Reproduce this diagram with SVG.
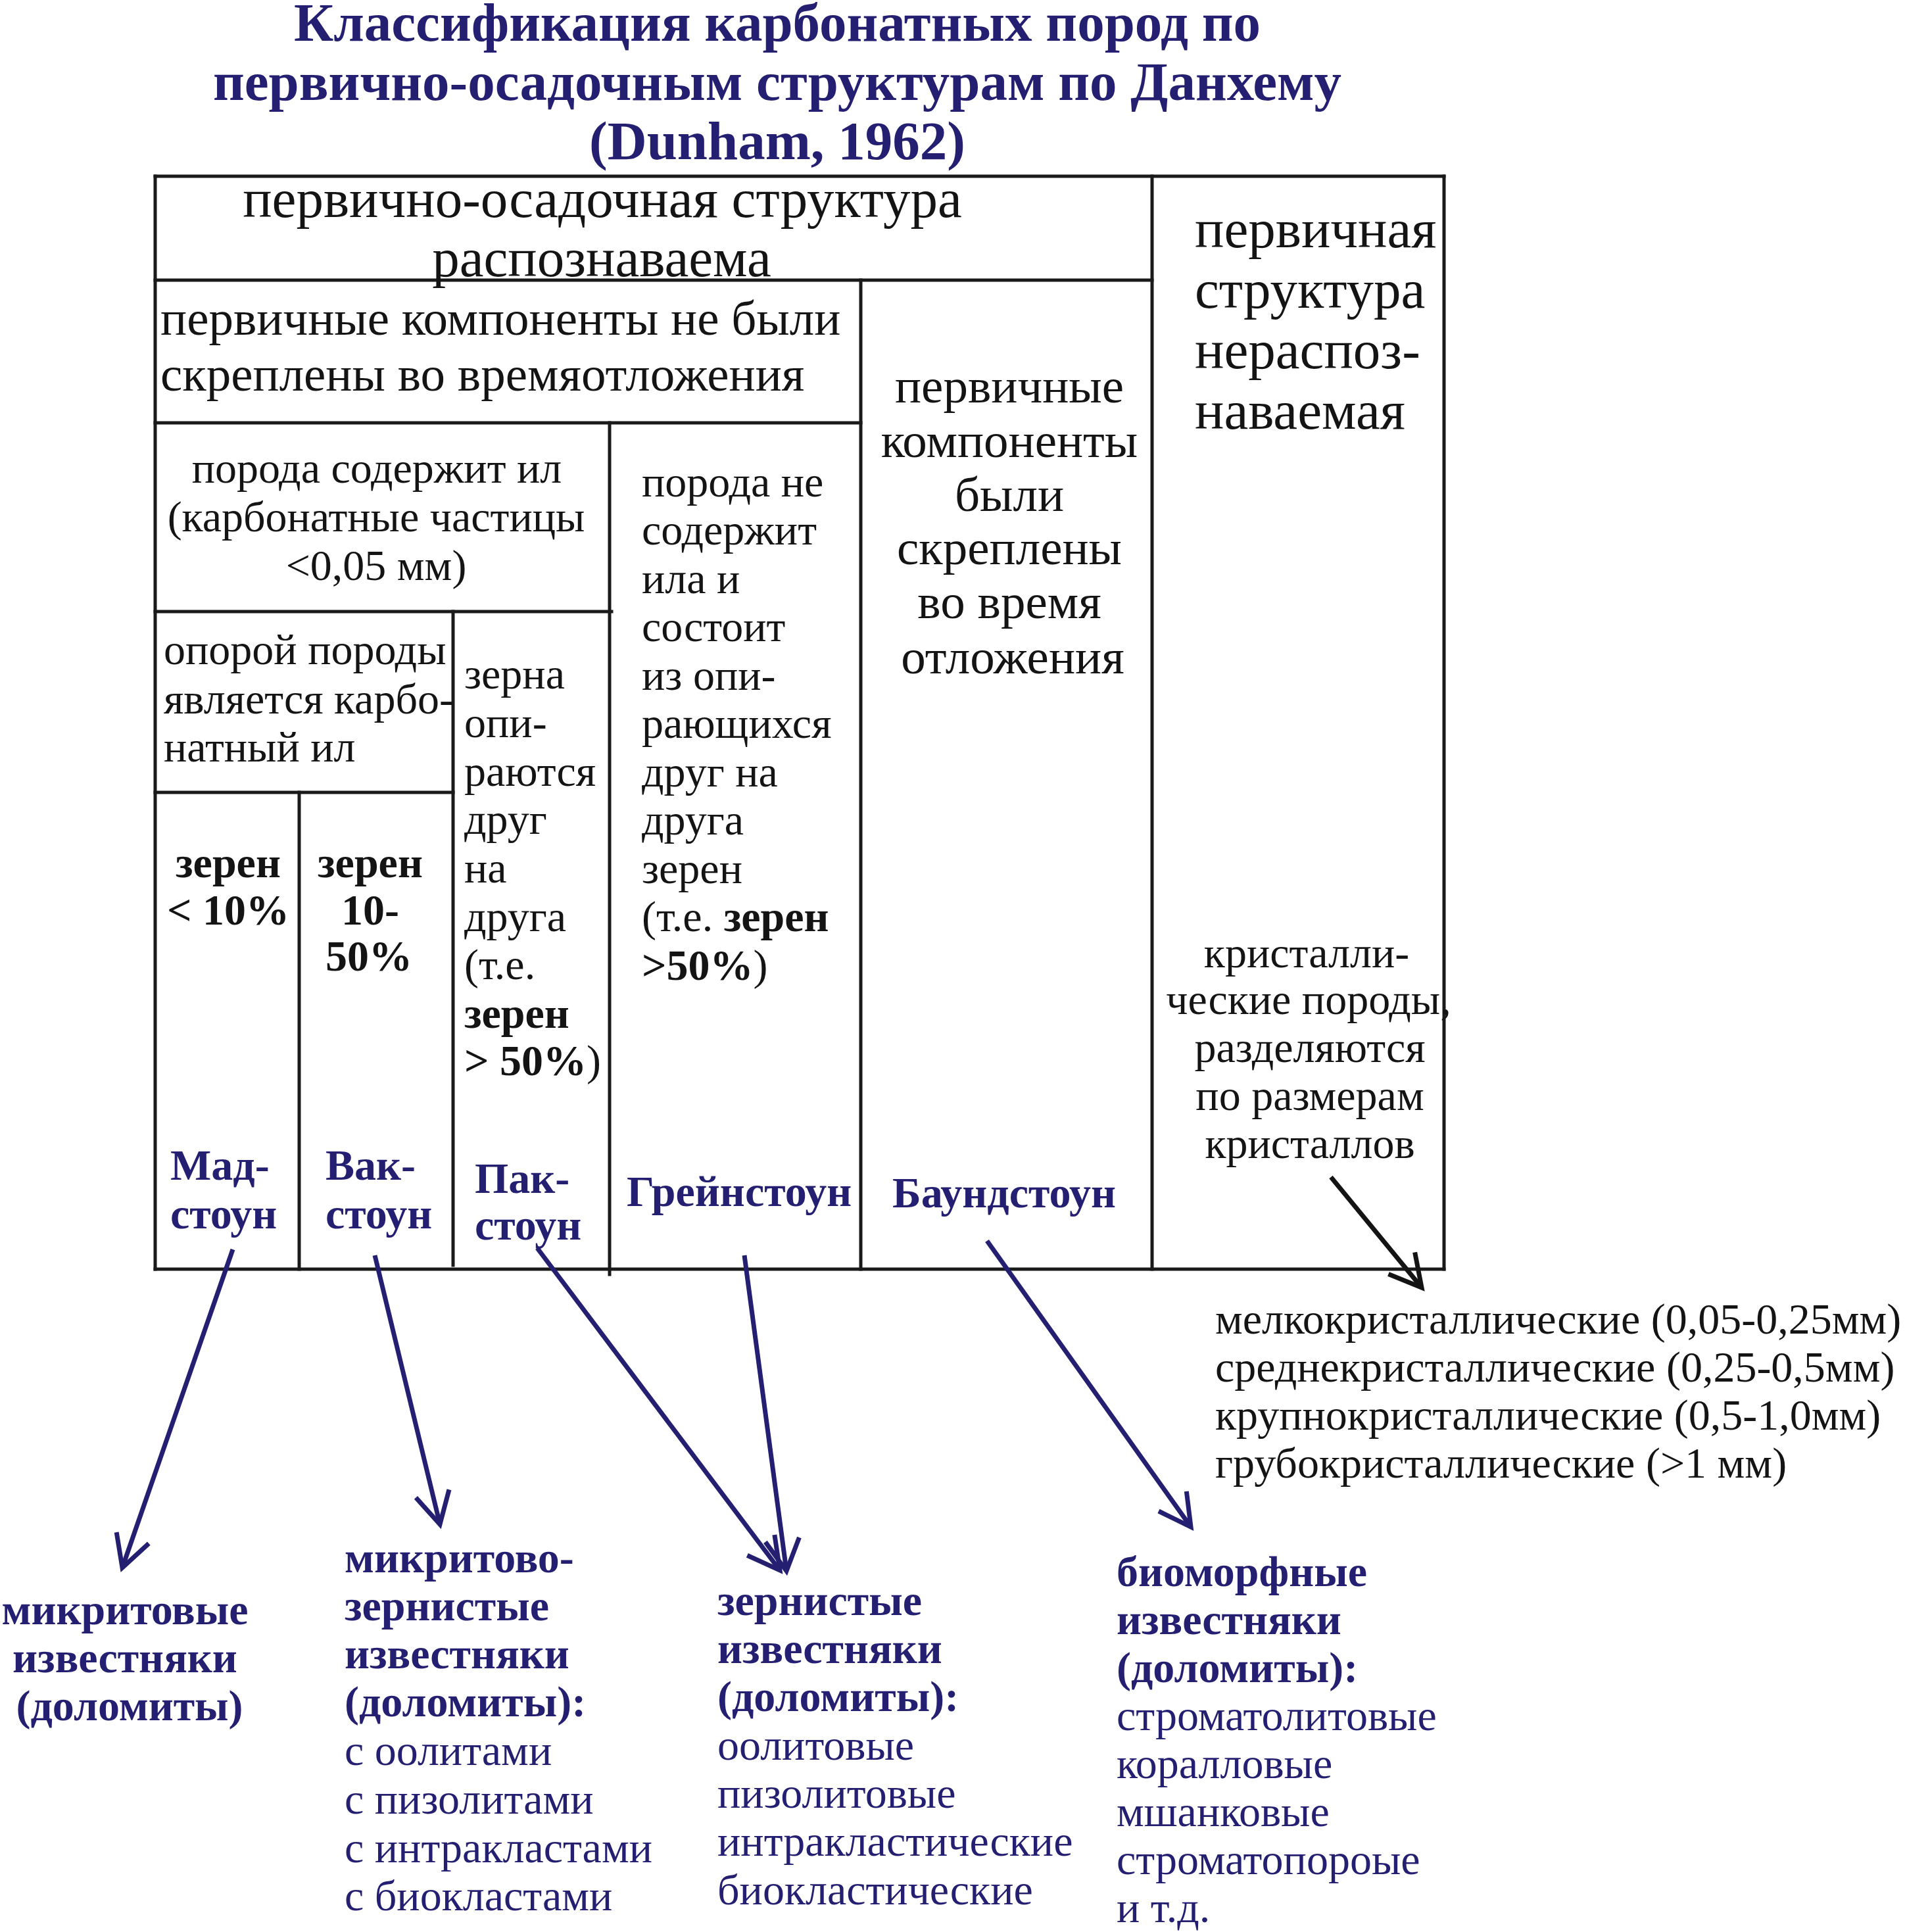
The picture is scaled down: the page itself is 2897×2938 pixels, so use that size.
<svg xmlns="http://www.w3.org/2000/svg" width="2897" height="2938" viewBox="0 0 2897 2938">
<style>
text{font-family:"Liberation Serif","Times New Roman",serif;fill:#141414}
.title{font-size:83px;font-weight:bold;fill:#251f72;text-anchor:middle}
.big{font-size:83px}
.mid{font-size:75px}
.sm{font-size:66px}
.b{font-weight:bold}
.blue{fill:#251f72}
.c{text-anchor:middle}
.grid line{stroke:#1a1a1a;stroke-width:5;stroke-linecap:square}
.arr{stroke:#251f72;stroke-width:7;fill:none;marker-end:url(#ah)}
.arrk{stroke:#141414;stroke-width:7;fill:none;marker-end:url(#ahk)}
</style>
<defs>
<marker id="ah" markerUnits="userSpaceOnUse" markerWidth="120" markerHeight="120" refX="0" refY="0" viewBox="-60 -60 120 120" orient="auto" overflow="visible">
<path d="M -48 -26 L 0 0 L -48 26" fill="none" stroke="#251f72" stroke-width="7"/>
</marker>
<marker id="ahk" markerUnits="userSpaceOnUse" markerWidth="120" markerHeight="120" refX="0" refY="0" viewBox="-60 -60 120 120" orient="auto" overflow="visible">
<path d="M -48 -26 L 0 0 L -48 26" fill="none" stroke="#141414" stroke-width="7"/>
</marker>
</defs>
<rect width="2897" height="2938" fill="#fff"/>
<g id="title">
<text class="title" x="1182" y="62">Классификация карбонатных пород по</text>
<text class="title" x="1182" y="152">первично-осадочным структурам по Данхему</text>
<text class="title" x="1182" y="242">(Dunham, 1962)</text>
</g>
<g id="table-grid" class="grid">
<line x1="236" y1="268" x2="2196" y2="268"/>
<line x1="236" y1="1930" x2="2196" y2="1930"/>
<line x1="236" y1="268" x2="236" y2="1930"/>
<line x1="2196" y1="268" x2="2196" y2="1930"/>
<line x1="1752" y1="268" x2="1752" y2="1930"/>
<line x1="236" y1="426" x2="1752" y2="426"/>
<line x1="1309" y1="426" x2="1309" y2="1930"/>
<line x1="236" y1="643" x2="1309" y2="643"/>
<line x1="927" y1="643" x2="927" y2="1938"/>
<line x1="236" y1="930" x2="930" y2="930"/>
<line x1="689" y1="930" x2="689" y2="1924"/>
<line x1="236" y1="1205" x2="689" y2="1205"/>
<line x1="455" y1="1205" x2="455" y2="1930"/>
</g>
<g id="recognizable">
<text class="big c" x="916" y="330">первично-осадочная структура</text>
<text class="big c" x="915" y="420">распознаваема</text>
</g>
<g id="not-bound">
<text class="mid" x="244" y="509">первичные компоненты не были</text>
<text class="mid" x="244" y="594">скреплены во времяотложения</text>
</g>
<g id="contains-mud">
<text class="sm c" x="573" y="734">порода содержит ил</text>
<text class="sm c" x="572" y="808">(карбонатные частицы</text>
<text class="sm c" x="572" y="882">&lt;0,05 мм)</text>
</g>
<g id="mud-supported">
<text class="sm" x="249" y="1010">опорой породы</text>
<text class="sm" x="249" y="1085">является карбо-</text>
<text class="sm" x="249" y="1158">натный ил</text>
</g>
<g id="mudstone">
<text class="sm b c" x="347" y="1334">зерен</text>
<text class="sm b c" x="347" y="1406">&lt; 10%</text>
<text class="sm b blue" x="259" y="1794">Мад-</text>
<text class="sm b blue" x="259" y="1868">стоун</text>
</g>
<g id="wackestone">
<text class="sm b c" x="563" y="1334">зерен</text>
<text class="sm b c" x="563" y="1406">10-</text>
<text class="sm b c" x="561" y="1476">50%</text>
<text class="sm b blue" x="495" y="1794">Вак-</text>
<text class="sm b blue" x="495" y="1868">стоун</text>
</g>
<g id="packstone">
<text class="sm" x="706" y="1047">зерна</text>
<text class="sm" x="706" y="1121">опи-</text>
<text class="sm" x="706" y="1195">раются</text>
<text class="sm" x="706" y="1268">друг</text>
<text class="sm" x="706" y="1342">на</text>
<text class="sm" x="706" y="1416">друга</text>
<text class="sm" x="706" y="1489">(т.е.</text>
<text class="sm b" x="706" y="1563">зерен</text>
<text class="sm" x="706" y="1635"><tspan class="b">&gt; 50%</tspan>)</text>
<text class="sm b blue" x="722" y="1814">Пак-</text>
<text class="sm b blue" x="722" y="1885">стоун</text>
</g>
<g id="grainstone">
<text class="sm" x="976" y="755">порода не</text>
<text class="sm" x="976" y="828">содержит</text>
<text class="sm" x="976" y="902">ила и</text>
<text class="sm" x="976" y="975">состоит</text>
<text class="sm" x="976" y="1049">из опи-</text>
<text class="sm" x="976" y="1122">рающихся</text>
<text class="sm" x="976" y="1196">друг на</text>
<text class="sm" x="976" y="1269">друга</text>
<text class="sm" x="976" y="1343">зерен</text>
<text class="sm" x="976" y="1416">(т.е. <tspan class="b">зерен</tspan></text>
<text class="sm" x="976" y="1490"><tspan class="b">&gt;50%</tspan>)</text>
<text class="sm b blue" x="953" y="1834">Грейнстоун</text>
</g>
<g id="boundstone">
<text class="mid c" x="1535" y="612">первичные</text>
<text class="mid c" x="1535" y="695">компоненты</text>
<text class="mid c" x="1535" y="777">были</text>
<text class="mid c" x="1535" y="858">скреплены</text>
<text class="mid c" x="1535" y="940">во время</text>
<text class="mid c" x="1540" y="1024">отложения</text>
<text class="sm b blue" x="1357" y="1836">Баундстоун</text>
</g>
<g id="unrecognizable">
<text class="big" x="1817" y="376">первичная</text>
<text class="big" x="1817" y="468">структура</text>
<text class="big" x="1817" y="560">нераспоз-</text>
<text class="big" x="1817" y="652">наваемая</text>
<text class="sm c" x="1987" y="1471">кристалли-</text>
<text class="sm c" x="1990" y="1542">ческие породы,</text>
<text class="sm c" x="1992" y="1615">разделяются</text>
<text class="sm c" x="1992" y="1688">по размерам</text>
<text class="sm c" x="1992" y="1761">кристаллов</text>
</g>
<g id="crystalline-list">
<text class="sm" x="1848" y="2028">мелкокристаллические (0,05-0,25мм)</text>
<text class="sm" x="1848" y="2101">среднекристаллические (0,25-0,5мм)</text>
<text class="sm" x="1848" y="2174">крупнокристаллические (0,5-1,0мм)</text>
<text class="sm" x="1848" y="2247">грубокристаллические (&gt;1 мм)</text>
</g>
<g id="micritic">
<text class="sm b blue c" x="190" y="2470">микритовые</text>
<text class="sm b blue c" x="190" y="2543">известняки</text>
<text class="sm b blue c" x="197" y="2616">(доломиты)</text>
</g>
<g id="micritic-grainy">
<text class="sm b blue" x="524" y="2391">микритово-</text>
<text class="sm b blue" x="524" y="2464">зернистые</text>
<text class="sm b blue" x="524" y="2537">известняки</text>
<text class="sm b blue" x="524" y="2610">(доломиты):</text>
<text class="sm blue" x="524" y="2684">с оолитами</text>
<text class="sm blue" x="524" y="2758">с пизолитами</text>
<text class="sm blue" x="524" y="2832">с интракластами</text>
<text class="sm blue" x="524" y="2905">с биокластами</text>
</g>
<g id="grainy">
<text class="sm b blue" x="1091" y="2456">зернистые</text>
<text class="sm b blue" x="1091" y="2529">известняки</text>
<text class="sm b blue" x="1091" y="2602">(доломиты):</text>
<text class="sm blue" x="1091" y="2676">оолитовые</text>
<text class="sm blue" x="1091" y="2749">пизолитовые</text>
<text class="sm blue" x="1091" y="2822">интракластические</text>
<text class="sm blue" x="1091" y="2896">биокластические</text>
</g>
<g id="biomorphic">
<text class="sm b blue" x="1698" y="2412">биоморфные</text>
<text class="sm b blue" x="1698" y="2485">известняки</text>
<text class="sm b blue" x="1698" y="2558">(доломиты):</text>
<text class="sm blue" x="1698" y="2631">строматолитовые</text>
<text class="sm blue" x="1698" y="2704">коралловые</text>
<text class="sm blue" x="1698" y="2777">мшанковые</text>
<text class="sm blue" x="1698" y="2850">строматопороые</text>
<text class="sm blue" x="1698" y="2923">и т.д.</text>
</g>
<g id="connectors">
<line class="arr" x1="354" y1="1900" x2="186" y2="2384"/>
<line class="arr" x1="570" y1="1909" x2="669" y2="2318"/>
<line class="arr" x1="817" y1="1898" x2="1186" y2="2388"/>
<line class="arr" x1="1132" y1="1909" x2="1196" y2="2389"/>
<line class="arr" x1="1501" y1="1887" x2="1811" y2="2322"/>
<line class="arrk" x1="2024" y1="1790" x2="2162" y2="1958"/>
</g>
</svg>
